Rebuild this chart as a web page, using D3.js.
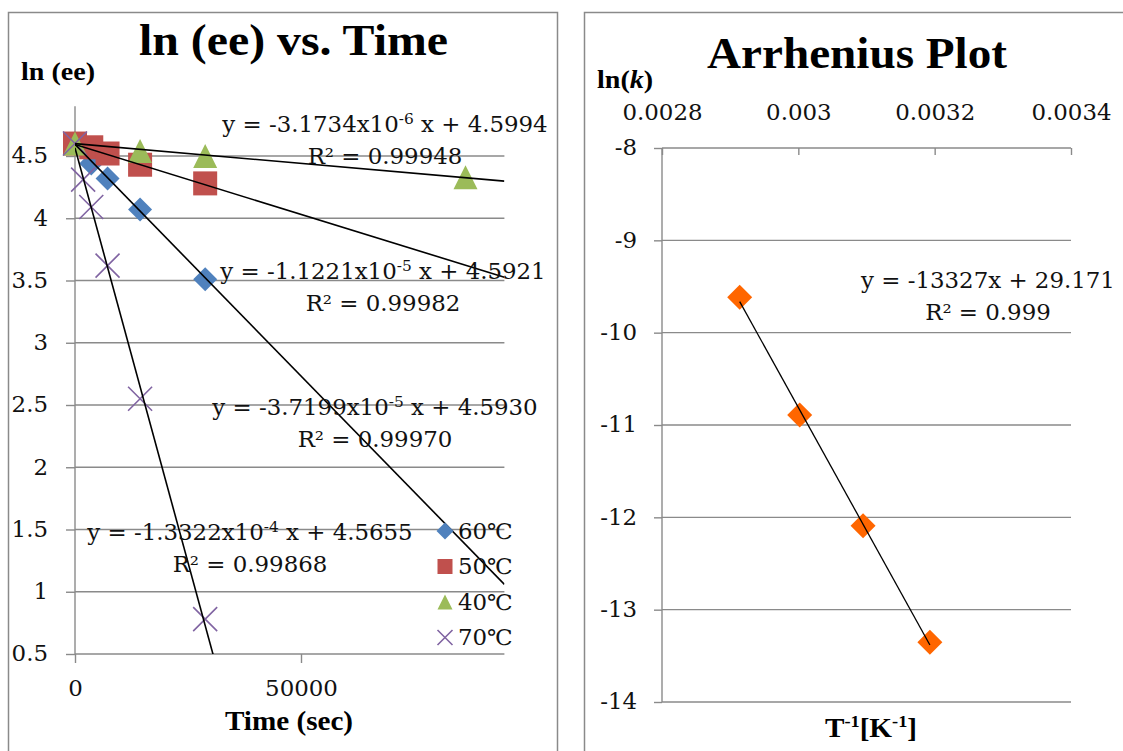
<!DOCTYPE html>
<html><head><meta charset="utf-8">
<script src="https://cdn.jsdelivr.net/npm/d3@7"></script>
<style>body{margin:0;background:#fff} svg{display:block}</style>
</head><body><svg id="c" width="1123" height="751"></svg>
<script>
// ---------- Data: ln(ee) vs. Time ----------
const seriesNames = ["60℃", "50℃", "40℃", "70℃"];
const times60 = [0, 3600, 7200, 14400, 28800];
const lnee60  = [4.60, 4.44, 4.32, 4.07, 3.51];
const times50 = [0, 3600, 7200, 14400, 28800];
const lnee50  = [4.60, 4.57, 4.52, 4.43, 4.28];
const times40 = [0, 14400, 28800, 86400];
const lnee40  = [4.60, 4.54, 4.50, 4.33];
const times70 = [0, 1800, 3600, 7200, 14400, 28800];
const lnee70  = [4.60, 4.31, 4.09, 3.62, 2.55, 0.78];
const slopes     = [-3.7199e-5, -1.1221e-5, -3.1734e-6, -1.3322e-4];
const slopeMant  = ["-3.7199", "-1.1221", "-3.1734", "-1.3322"];
const slopeExp   = ["-5", "-5", "-6", "-4"];
const intercepts = [4.5930, 4.5921, 4.5994, 4.5655];
const r2Left     = ["0.99970", "0.99982", "0.99948", "0.99868"];
const yTicksL = [0.5, 1, 1.5, 2, 2.5, 3, 3.5, 4, 4.5];
const xTicksL = [0, 50000];

// ---------- Data: Arrhenius ----------
const invT = [0.002914, 0.003002, 0.003095, 0.003193];
const lnk  = [-9.617, -10.892, -12.091, -13.354];
const arrSlope = -13327, arrIntercept = 29.171, arrR2 = "0.999";
const xTicksR = [0.0028, 0.003, 0.0032, 0.0034];
const yTicksR = [-8, -9, -10, -11, -12, -13, -14];

// ---------- Styling / layout ----------
const colors = ["#4F81BD", "#C0504D", "#9BBB59", "#8064A2"];
const shapes = ["diamond", "square", "triangle", "x"];
const GRID = "#8a8a8a";
const NUMFONT = "C059, 'Century Schoolbook', 'DejaVu Serif', serif";
const NUMSIZE = 21.5;
const NUMSTRETCH = 1.065;
const TITLEFONT = "'Liberation Serif', 'Nimbus Roman', 'Times New Roman', serif";
const TSTRETCH = 1.08;

const svg = d3.select("#c");
svg.append("rect").attr("width", 1123).attr("height", 751).attr("fill", "#fff");

// horizontal stretch helper (keeps the anchor point in place)
function stretch(sel, k) {
  sel.each(function () {
    const t = d3.select(this);
    const x = +(t.attr("x") || 0);
    t.attr("x", x / k).attr("transform", `scale(${k},1)`);
  });
  return sel;
}

// panel borders
svg.append("rect").attr("x", 8.5).attr("y", 12.5).attr("width", 549).attr("height", 800)
  .attr("fill", "none").attr("stroke", GRID).attr("stroke-width", 1.5);
svg.append("rect").attr("x", 584.5).attr("y", 12.5).attr("width", 600).attr("height", 800)
  .attr("fill", "none").attr("stroke", GRID).attr("stroke-width", 1.5);

function marker(g, type, cx, cy, s, color) {
  const h = s / 2;
  if (type === "diamond") {
    g.append("path").attr("d", `M${cx},${cy - h}L${cx + h},${cy}L${cx},${cy + h}L${cx - h},${cy}Z`).attr("fill", color);
  } else if (type === "square") {
    g.append("rect").attr("x", cx - h).attr("y", cy - h).attr("width", s).attr("height", s).attr("fill", color);
  } else if (type === "triangle") {
    g.append("path").attr("d", `M${cx},${cy - h}L${cx + h},${cy + h}L${cx - h},${cy + h}Z`).attr("fill", color);
  } else {
    g.append("path").attr("d", `M${cx - h},${cy - h}L${cx + h},${cy + h}M${cx + h},${cy - h}L${cx - h},${cy + h}`)
      .attr("stroke", color).attr("stroke-width", 1.6).attr("fill", "none");
  }
}

function styleAxis(g) {
  g.select(".domain").remove();
  g.selectAll(".tick line").attr("stroke", GRID).attr("stroke-width", 1.4);
  const tx = g.selectAll(".tick text").attr("font-family", NUMFONT).attr("font-size", NUMSIZE).attr("fill", "#111");
  stretch(tx, NUMSTRETCH);
}

function numText(x, y, anchor) {
  const t = svg.append("text").attr("x", x).attr("y", y).attr("text-anchor", anchor)
    .attr("font-family", NUMFONT).attr("font-size", NUMSIZE).attr("fill", "#111");
  stretch(t, NUMSTRETCH);
  return t;
}

// ================= LEFT CHART =================
const xL = d3.scaleLinear().domain([0, 95000]).range([75, 504.4]);
const yL = d3.scaleLinear().domain([0.5, 4.9]).range([654, 106.2]);

svg.append("g").selectAll("line").data(yTicksL).join("line")
  .attr("x1", xL(0)).attr("x2", xL(95000))
  .attr("y1", d => yL(d)).attr("y2", d => yL(d))
  .attr("stroke", GRID).attr("stroke-width", 1.4);
svg.append("line").attr("x1", xL(0)).attr("x2", xL(0)).attr("y1", yL(4.9)).attr("y2", yL(0.5))
  .attr("stroke", GRID).attr("stroke-width", 1.4);

const gyl = svg.append("g").attr("transform", `translate(${xL(0)},0)`)
  .call(d3.axisLeft(yL).tickValues(yTicksL).tickFormat(d => String(d)).tickSizeInner(9).tickSizeOuter(0).tickPadding(18));
styleAxis(gyl);
const gxl = svg.append("g").attr("transform", `translate(0,${yL(0.5)})`)
  .call(d3.axisBottom(xL).tickValues(xTicksL).tickFormat(d => String(d)).tickSizeInner(9).tickSizeOuter(0).tickPadding(18));
styleAxis(gxl);

// markers
const seriesT = [times60, times50, times40, times70];
const seriesV = [lnee60, lnee50, lnee40, lnee70];
const gm = svg.append("g");
seriesT.forEach((ts, i) => {
  ts.forEach((t, j) => marker(gm, shapes[i], xL(t), yL(seriesV[i][j]), 24, colors[i]));
});

// trendlines (clipped to plot area)
svg.append("clipPath").attr("id", "clipL").append("rect")
  .attr("x", xL(0)).attr("y", yL(4.9)).attr("width", xL(95000) - xL(0)).attr("height", yL(0.5) - yL(4.9));
const gt = svg.append("g").attr("clip-path", "url(#clipL)");
slopes.forEach((m, i) => {
  gt.append("line")
    .attr("x1", xL(0)).attr("y1", yL(intercepts[i]))
    .attr("x2", xL(95000)).attr("y2", yL(intercepts[i] + m * 95000))
    .attr("stroke", "#000").attr("stroke-width", 1.6);
});

// trendline labels: [centerX, baseline]
const labelPos = [[375, 415], [383, 279], [385, 132], [250, 540]];
slopes.forEach((m, i) => {
  const [cx, by] = labelPos[i];
  const t = numText(cx, by, "middle");
  t.append("tspan").text(`y = ${slopeMant[i]}x10`);
  t.append("tspan").attr("dy", -8).attr("font-size", 14.5).text(slopeExp[i]);
  t.append("tspan").attr("dy", 8).text(` x + ${intercepts[i].toFixed(4)}`);
  numText(cx, by + 32, "middle").text(`R² = ${r2Left[i]}`);
});

// legend
const lg = svg.append("g");
seriesNames.forEach((name, i) => {
  const cy = 531 + i * 35.5;
  const sz = shapes[i] === "diamond" ? 17 : 15;
  marker(lg, shapes[i], 445, cy, sz, colors[i]);
  numText(458, cy, "start").attr("dy", "0.35em").text(name);
});

// titles
svg.append("text").attr("x", 139).attr("y", 55)
  .attr("textLength", 309).attr("lengthAdjust", "spacingAndGlyphs")
  .attr("font-family", TITLEFONT).attr("font-weight", "bold").attr("font-size", 44).text("ln (ee) vs. Time");
stretch(svg.append("text").attr("x", 21).attr("y", 80)
  .attr("font-family", TITLEFONT).attr("font-weight", "bold").attr("font-size", 26).text("ln (ee)"), TSTRETCH);
stretch(svg.append("text").attr("x", 289).attr("y", 730).attr("text-anchor", "middle")
  .attr("font-family", TITLEFONT).attr("font-weight", "bold").attr("font-size", 27).text("Time (sec)"), TSTRETCH);

// ================= RIGHT CHART =================
const xR = d3.scaleLinear().domain([0.0028, 0.0034]).range([662, 1071]);
const yR = d3.scaleLinear().domain([-14, -8]).range([702, 148]);

svg.append("g").selectAll("line").data(yTicksR).join("line")
  .attr("x1", xR(0.0028)).attr("x2", xR(0.0034))
  .attr("y1", d => yR(d)).attr("y2", d => yR(d))
  .attr("stroke", GRID).attr("stroke-width", 1.4);
svg.append("line").attr("x1", xR(0.0028)).attr("x2", xR(0.0028)).attr("y1", yR(-8)).attr("y2", yR(-14))
  .attr("stroke", GRID).attr("stroke-width", 1.4);

const gyr = svg.append("g").attr("transform", `translate(${xR(0.0028)},0)`)
  .call(d3.axisLeft(yR).tickValues(yTicksR).tickFormat(d => String(d)).tickSizeInner(8).tickSizeOuter(0).tickPadding(17));
styleAxis(gyr);
const gxr = svg.append("g").attr("transform", `translate(0,${yR(-8)})`)
  .call(d3.axisTop(xR).tickValues(xTicksR).tickFormat(d => String(d)).tickSizeInner(-7).tickSizeOuter(0).tickPadding(28));
styleAxis(gxr);

// points, then trendline on top
const gp = svg.append("g");
invT.forEach((v, i) => marker(gp, "diamond", xR(v), yR(lnk[i]), 25, "#FF6600"));
const x0 = d3.min(invT), x1 = d3.max(invT);
svg.append("line")
  .attr("x1", xR(x0)).attr("y1", yR(arrSlope * x0 + arrIntercept))
  .attr("x2", xR(x1)).attr("y2", yR(arrSlope * x1 + arrIntercept))
  .attr("stroke", "#000").attr("stroke-width", 1.3);

numText(988, 288, "middle").text(`y = ${arrSlope}x + ${arrIntercept}`);
numText(988, 320, "middle").text(`R² = ${arrR2}`);

svg.append("text").attr("x", 707).attr("y", 68)
  .attr("textLength", 300).attr("lengthAdjust", "spacingAndGlyphs")
  .attr("font-family", TITLEFONT).attr("font-weight", "bold").attr("font-size", 45).text("Arrhenius Plot");
const lk = svg.append("text").attr("x", 597).attr("y", 88)
  .attr("font-family", TITLEFONT).attr("font-weight", "bold").attr("font-size", 26);
lk.append("tspan").text("ln(");
lk.append("tspan").attr("font-style", "italic").text("k");
lk.append("tspan").text(")");
stretch(lk, TSTRETCH);
const tl = svg.append("text").attr("x", 871).attr("y", 737).attr("text-anchor", "middle")
  .attr("font-family", TITLEFONT).attr("font-weight", "bold").attr("font-size", 27);
tl.append("tspan").text("T");
tl.append("tspan").attr("dy", -10).attr("font-size", 17).text("-1");
tl.append("tspan").attr("dy", 10).text("[K");
tl.append("tspan").attr("dy", -10).attr("font-size", 17).text("-1");
tl.append("tspan").attr("dy", 10).text("]");
stretch(tl, TSTRETCH);
</script></body></html>
